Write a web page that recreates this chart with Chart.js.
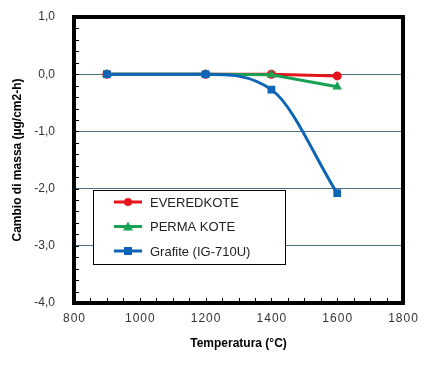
<!DOCTYPE html>
<html>
<head>
<meta charset="utf-8">
<script src="https://cdn.jsdelivr.net/npm/chart.js@4"></script>
<style>
html,body{margin:0;padding:0;background:#fff;}
#wrap{width:442px;height:384px;position:relative;}
</style>
</head>
<body>
<div id="wrap"><canvas id="c" width="442" height="384"></canvas></div>
<script>
const temperatures = [900, 1200, 1400, 1600];
const everedkote = [0, 0, 0, -0.03];
const permaKote = [0, 0, -0.01, -0.22];
const grafite = [0, 0, -0.27, -2.08];
const seriesLabels = ['EVEREDKOTE', 'PERMA KOTE', 'Grafite (IG-710U)'];
const yTicks = [1, 0, -1, -2, -3, -4];
const xTicks = [800, 1000, 1200, 1400, 1600, 1800];

const colors = ['#e8141c', '#17a153', '#0f65b5'];
const styles = ['circle', 'triangle', 'rect'];
const series = [everedkote, permaKote, grafite];

const datasets = series.map((vals, i) => ({
  label: seriesLabels[i],
  data: temperatures.map((t, j) => ({x: t, y: vals[j]})),
  borderColor: colors[i],
  backgroundColor: colors[i],
  borderWidth: 3,
  pointStyle: styles[i],
  pointRadius: i === 0 ? 4.5 : 5.5,
  pointBorderWidth: 0,
  cubicInterpolationMode: i === 2 ? 'monotone' : 'default',
  tension: i === 2 ? 0.4 : 0,
  order: 3 - i
}));

const font = {family: '"Liberation Sans", Arial, sans-serif', size: 12};

const frame = {
  id: 'frame',
  afterDatasetsDraw(chart) {
    const {ctx, chartArea: a, scales: {x, y}} = chart;
    ctx.save();
    ctx.strokeStyle = '#000';
    ctx.lineWidth = 1;
    for (let v = 800; v <= 1800; v += 50) {
      const px = Math.round(x.getPixelForValue(v)) + 0.5;
      ctx.beginPath(); ctx.moveTo(px, a.bottom); ctx.lineTo(px, a.bottom - 5); ctx.stroke();
    }
    for (let v = -4; v <= 1.001; v += 0.2) {
      const py = Math.round(y.getPixelForValue(v)) + 0.5;
      ctx.beginPath(); ctx.moveTo(a.left, py); ctx.lineTo(a.left + 5, py); ctx.stroke();
    }
    ctx.lineWidth = 4;
    ctx.strokeStyle = '#000';
    ctx.strokeRect(a.left, a.top, a.right - a.left, a.bottom - a.top);
    const lx = 93, ly = 190, lw = 192, lh = 74;
    ctx.fillStyle = '#fff';
    ctx.fillRect(lx, ly, lw, lh);
    ctx.lineWidth = 1;
    ctx.strokeRect(lx + 0.5, ly + 0.5, lw, lh);
    ctx.font = '13px "Liberation Sans", Arial, sans-serif';
    ctx.textBaseline = 'middle';
    seriesLabels.forEach((lab, i) => {
      const cy = ly + 12 + i * 24.5;
      ctx.strokeStyle = colors[i];
      ctx.fillStyle = colors[i];
      ctx.lineWidth = 3;
      ctx.beginPath(); ctx.moveTo(114, cy); ctx.lineTo(142, cy); ctx.stroke();
      ctx.beginPath();
      if (i === 0) { ctx.arc(128, cy, 4, 0, Math.PI * 2); ctx.fill(); }
      else if (i === 1) { ctx.moveTo(128, cy - 5); ctx.lineTo(133, cy + 4); ctx.lineTo(123, cy + 4); ctx.closePath(); ctx.fill(); }
      else { ctx.fillRect(124, cy - 4, 8, 8); }
      ctx.fillStyle = '#222';
      ctx.fillText(lab, 150, cy + 1);
    });
    ctx.restore();
  }
};

new Chart(document.getElementById('c'), {
  type: 'line',
  data: {datasets},
  options: {
    responsive: false,
    animation: false,
    layout: {padding: {left: 6, right: 39, top: 17, bottom: 29}},
    plugins: {legend: {display: false}, tooltip: {enabled: false}},
    scales: {
      x: {
        type: 'linear', min: 800, max: 1800,
        afterBuildTicks(s) { s.ticks = xTicks.map(v => ({value: v})); },
        grid: {display: false, drawTicks: false},
        border: {display: false},
        ticks: {font, color: '#333', padding: 8, maxRotation: 0,
          callback: v => String(v).split('').join('\u200A')},
        title: {display: true, text: 'Temperatura (°C)', color: '#000',
          font: {family: font.family, size: 12, weight: 'bold'}, padding: {top: 8}},
        afterFit(s) { s.height = 52; s.paddingLeft = 0; s.paddingRight = 0; }
      },
      y: {
        min: -4, max: 1,
        afterBuildTicks(s) { s.ticks = yTicks.map(v => ({value: v})); },
        grid: {color: ctx => (ctx.tick && (ctx.tick.value === 1 || ctx.tick.value === -4)) ? 'rgba(0,0,0,0)' : '#4d6f80',
          lineWidth: 1, drawTicks: false},
        border: {display: false},
        ticks: {font, color: '#333', padding: 19,
          callback: v => v.toFixed(1).replace('.', ',')},
        title: {display: true, text: 'Cambio di massa (µg/cm2-h)', color: '#000',
          font: {family: font.family, size: 12, weight: 'bold'}, padding: {bottom: 0}},
        afterFit(s) { s.width = 68; s.paddingTop = 0; s.paddingBottom = 0; }
      }
    }
  },
  plugins: [frame]
});
</script>
</body>
</html>
